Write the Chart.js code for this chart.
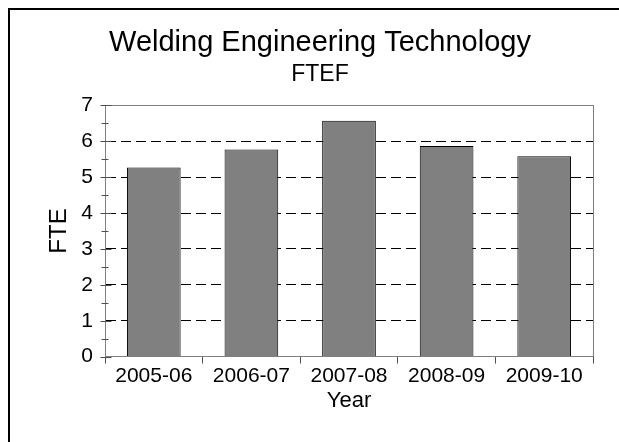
<!DOCTYPE html>
<html>
<head>
<meta charset="utf-8">
<title>Welding Engineering Technology FTEF</title>
<script src="https://cdn.jsdelivr.net/npm/chart.js@4.4.1/dist/chart.umd.min.js"></script>
<style>
  html, body { margin: 0; padding: 0; background: #fff; overflow: hidden; }
  .marco {
    position: absolute; left: 8px; top: 8px; right: 0; bottom: 0;
    border-left: 2px solid #000; border-top: 2px solid #000;
  }
  .contenedor { position: absolute; left: 0; top: 0; width: 609px; height: 432px; }
</style>
</head>
<body>
<div class="marco">
  <div class="contenedor"><canvas id="graficoFtef"></canvas></div>
</div>
<script>
// --- DATOS ---
const anios = ['2005-06', '2006-07', '2007-08', '2008-09', '2009-10'];
const valoresFte = [5.27, 5.77, 6.57, 5.87, 5.58];
const ejeYMin = 0;
const ejeYMax = 7;
const pasoMenor = 0.5;

const FUENTE = "'Liberation Sans', Arial, sans-serif";

// marco gris del area de trazado
const marcoArea = {
  id: 'marcoArea',
  afterDatasetsDraw(chart) {
    const { ctx, chartArea: a } = chart;
    ctx.save();
    ctx.strokeStyle = '#808080';
    ctx.lineWidth = 1;
    ctx.strokeRect(Math.round(a.left) + 0.5, Math.round(a.top) + 0.5,
      Math.round(a.right - a.left), Math.round(a.bottom - a.top));
    ctx.restore();
  }
};

// marcas del eje Y que cruzan la linea del eje (mayores y menores)
const marcasEjeY = {
  id: 'marcasEjeY',
  afterDatasetsDraw(chart) {
    const { ctx } = chart;
    const y = chart.scales.y;
    const x0 = Math.round(y.right) + 0.5;
    ctx.save();
    ctx.strokeStyle = '#505050';
    ctx.lineWidth = 1;
    y.ticks.forEach(t => {
      const py = Math.round(y.getPixelForValue(t.value)) + 0.5;
      const mayor = Number.isInteger(t.value);
      ctx.beginPath();
      ctx.moveTo(x0 - (mayor ? 5 : 4), py);
      ctx.lineTo(x0 + (mayor ? 6 : 3), py);
      ctx.stroke();
    });
    ctx.restore();
  }
};

const ctx = document.getElementById('graficoFtef').getContext('2d');

new Chart(ctx, {
  type: 'bar',
  data: {
    labels: anios,
    datasets: [{
      label: 'FTE',
      data: valoresFte,
      backgroundColor: '#808080',
      borderColor: '#000000',
      borderWidth: 1,
      borderSkipped: 'bottom',
      barPercentage: 0.55,
      categoryPercentage: 1.0
    }]
  },
  options: {
    responsive: true,
    maintainAspectRatio: false,
    animation: false,
    layout: { padding: { left: 37, right: 26, top: 0, bottom: 29 } },
    plugins: {
      legend: { display: false },
      tooltip: { enabled: false },
      title: {
        display: true,
        text: 'Welding Engineering Technology',
        color: '#000',
        font: { family: FUENTE, size: 29, weight: 'normal', lineHeight: 1.2 },
        padding: { top: 16, bottom: 0 }
      },
      subtitle: {
        display: true,
        text: 'FTEF',
        color: '#000',
        font: { family: FUENTE, size: 23, weight: 'normal', lineHeight: 1.2 },
        padding: { top: 0, bottom: 17 }
      }
    },
    scales: {
      x: {
        grid: {
          offset: true,
          drawOnChartArea: false,
          drawTicks: true,
          tickLength: 7,
          tickColor: '#505050'
        },
        border: { color: '#808080' },
        ticks: {
          color: '#000',
          padding: 0,
          font: { family: FUENTE, size: 21 }
        },
        title: {
          display: true,
          text: 'Year',
          color: '#000',
          font: { family: FUENTE, size: 22, lineHeight: 1.1 },
          padding: { top: 0, bottom: 0 }
        }
      },
      y: {
        min: ejeYMin,
        max: ejeYMax,
        afterFit(scale) { scale.width = 58; },
        grid: {
          drawTicks: false,
          color: c => (Number.isInteger(c.tick.value) && c.tick.value > ejeYMin && c.tick.value < ejeYMax)
            ? '#000000' : 'rgba(0,0,0,0)',
          lineWidth: 1
        },
        border: { color: '#808080', dash: [10, 5] },
        ticks: {
          stepSize: pasoMenor,
          autoSkip: false,
          padding: 12,
          color: '#000',
          font: { family: FUENTE, size: 21 },
          callback: v => Number.isInteger(v) ? v : ''
        },
        title: {
          display: true,
          text: 'FTE',
          color: '#000',
          font: { family: FUENTE, size: 24, lineHeight: 1 },
          padding: 0
        }
      }
    }
  },
  plugins: [marcoArea, marcasEjeY]
});
</script>
</body>
</html>
